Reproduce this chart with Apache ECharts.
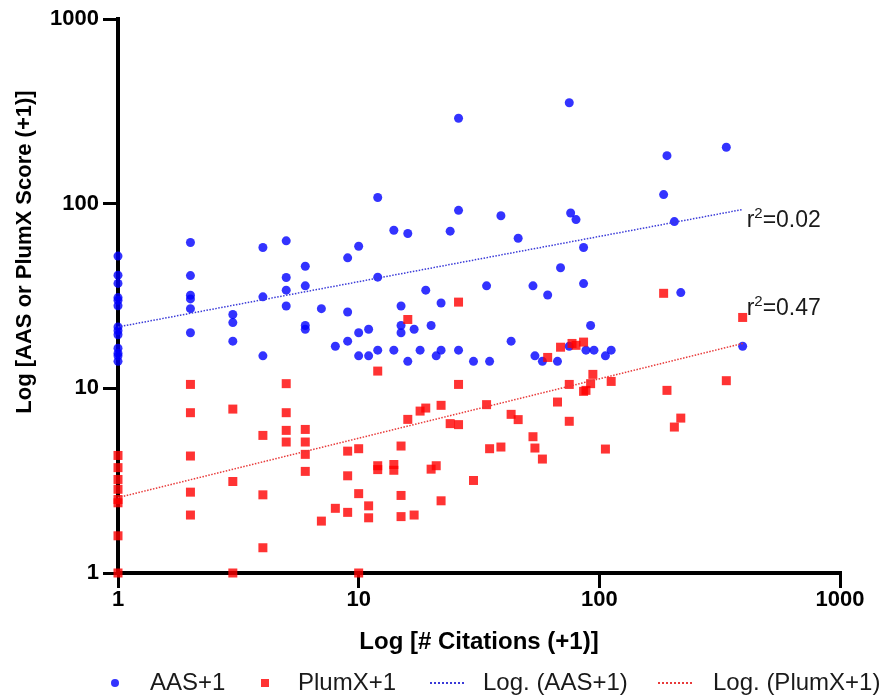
<!DOCTYPE html>
<html>
<head>
<meta charset="utf-8">
<script src="https://cdn.jsdelivr.net/npm/echarts@6/dist/echarts.min.js"></script>
<style>
  html, body { margin: 0; padding: 0; background: #fff; }
  #c { width: 887px; height: 699px; }
</style>
</head>
<body>
<div id="c"></div>
<script>
// ---- Data ----
const aasX = [1,1,1,1,1,1,1,1,1,1,1,1,1, 2,2,2,2,2,2, 3,3,3, 4,4,4, 5,5,5,5, 6,6,6,6, 7, 8, 9,9,9, 10,10,10, 11,11, 12,12,12, 14,14, 15,15,15, 16,16, 17, 18, 19, 20, 21, 22,22, 24, 26,26,26, 30, 34, 35, 39, 43, 46, 53, 54, 58, 61, 67, 69, 75,75, 76, 80, 86,86, 88, 92, 95, 106, 112, 185, 191, 205, 218, 337, 394];
const aasY = [52,41,37,31,30,28,21.5,20.5,19.5,16.5,15.5,15,14, 61.6,40.8,31.9,30.5,27,20, 25.1,22.7,18, 57.9,31.3,15, 62.9,39.8,34,27.9, 45.8,35.9,21.9,20.9, 27, 16.9, 50.9,25.9,18, 58.8,20,15, 20.9,15, 108,40,16.1, 71.8,16.1, 27.9,21.9,20, 68.9,14, 20.9, 16.1, 34, 21.9, 15, 29,16.1, 71, 290,92,16.1, 14, 35.9, 14, 86, 18, 65, 35.9, 15, 14, 32, 14, 45, 352,16.9, 89, 82, 57.9,36.9, 16.1, 21.9, 16.1, 15, 16.1, 112, 182, 80, 33, 202, 16.9];

const plumxX = [1,1,1,1,1,1,1,1, 2,2,2,2,2, 3,3,3, 4,4,4, 5,5,5,5, 6,6,6,6, 7, 8, 9,9,9, 10,10,10, 11,11, 12,12,12, 14,14, 15,15,15, 16,16, 17, 18, 19, 20, 21, 22,22, 24, 26,26,26, 30, 34, 35, 39, 43, 46, 53, 54, 58, 61, 67, 69, 75,75, 77, 80, 86,86, 88, 92, 94, 106, 112, 185, 191, 205, 218, 337, 394];
const plumxY = [4.33,3.72,3.21,2.84,2.5,2.4,1.59,1, 10.5,7.38,4.3,2.74,2.06, 7.72,3.13,1, 5.56,2.65,1.37, 10.6,7.38,5.92,5.12, 5.99,5.12,4.39,3.55, 1.91, 2.24, 4.57,3.36,2.13, 4.71,2.69,1, 2.31,1.99, 12.4,3.81,3.63, 3.87,3.6, 4.87,2.63,2.02, 23.6,6.79, 2.06, 7.53, 7.82, 3.65, 3.81, 8.09,2.46, 6.44, 29.3,10.5,6.36, 3.17, 8.16, 4.71, 4.81, 7.23, 6.77, 5.47, 4.75, 4.14, 14.7, 8.43, 16.7, 10.5,6.63, 17.5, 17.1, 17.8,9.63, 9.75, 10.6, 11.9, 4.69, 10.9, 32.7, 9.75, 6.17, 6.9, 11.0, 24.2];

const trendX = [1, 394];
const aasTrendY = [21.5, 93];
const plumxTrendY = [2.56, 17.5];
const r2Values = ['0.02', '0.47'];

const seriesNames = ['AAS+1', 'PlumX+1', 'Log. (AAS+1)', 'Log. (PlumX+1)'];

// ---- Build ----
const zip = (xs, ys) => xs.map((x, i) => [x, ys[i]]);
const FONT = 'Liberation Sans, Arial, sans-serif';

const axisCommon = {
  type: 'log', logBase: 10, min: 1, max: 1000,
  nameLocation: 'middle',
  nameTextStyle: { fontSize: 24, fontWeight: 'bold', color: '#000', fontFamily: FONT },
  axisLine: { show: true, onZero: false, lineStyle: { color: '#000', width: 4, cap: 'square' } },
  axisTick: { show: true, inside: false, length: 15, lineStyle: { color: '#000', width: 3 } },
  axisLabel: { fontSize: 22, fontWeight: 'bold', color: '#000', fontFamily: FONT,
               showMinLabel: true, showMaxLabel: true,
               formatter: v => String(Math.round(v)) },
  splitLine: { show: false },
  minorTick: { show: false }
};

const legendText = { fontSize: 24, color: '#1a1a1a', fontFamily: FONT };
const hiddenSymbol = { opacity: 0 };

function r2Label(val, offset) {
  return {
    show: true, distance: 4, offset: offset,
    formatter: '{a|r}{s|2}{a|=' + val + '}',
    rich: {
      a: { fontSize: 23, color: '#1a1a1a', fontFamily: FONT, lineHeight: 26, verticalAlign: 'bottom' },
      s: { fontSize: 15, color: '#1a1a1a', fontFamily: FONT, lineHeight: 26, verticalAlign: 'top', padding: [0, 0, 8, 0] }
    }
  };
}

const option = {
  backgroundColor: '#fff',
  animation: false,
  grid: { left: 118, right: 47, top: 19, bottom: 126, containLabel: false },
  xAxis: Object.assign({}, axisCommon, {
    name: 'Log [# Citations (+1)]', nameGap: 57,
    axisLabel: Object.assign({}, axisCommon.axisLabel, { margin: 16 })
  }),
  yAxis: Object.assign({}, axisCommon, {
    name: 'Log [AAS or PlumX Score (+1)]', nameGap: 82, nameRotate: 90,
    nameTextStyle: Object.assign({}, axisCommon.nameTextStyle, { fontSize: 22, padding: [0, 0, 0, 88] }),
    axisLabel: Object.assign({}, axisCommon.axisLabel, { margin: 19 })
  }),
  legend: [
    { data: [seriesNames[0]], left: 111, top: 671, padding: 0, itemWidth: 8, itemHeight: 8,
      textStyle: Object.assign({}, legendText, { padding: [0, 0, 0, 26] }) },
    { data: [seriesNames[1]], left: 261, top: 671, padding: 0, itemWidth: 8, itemHeight: 8,
      textStyle: Object.assign({}, legendText, { padding: [0, 0, 0, 24] }) },
    { data: [seriesNames[2]], left: 429, top: 671, padding: 0, itemWidth: 34, itemHeight: 8,
      itemStyle: hiddenSymbol,
      textStyle: Object.assign({}, legendText, { padding: [0, 0, 0, 14] }) },
    { data: [seriesNames[3]], left: 657, top: 671, padding: 0, itemWidth: 36, itemHeight: 8,
      itemStyle: hiddenSymbol,
      textStyle: Object.assign({}, legendText, { padding: [0, 0, 0, 14] }) }
  ],
  series: [
    { name: seriesNames[0], type: 'scatter', symbol: 'circle', symbolSize: 9,
      itemStyle: { color: '#0000ff' }, data: zip(aasX, aasY), z: 2 },
    { name: seriesNames[1], type: 'scatter', symbol: 'rect', symbolSize: 9,
      itemStyle: { color: '#ff0000' }, data: zip(plumxX, plumxY), z: 3 },
    { name: seriesNames[2], type: 'line', symbol: 'none', showSymbol: false,
      lineStyle: { color: '#3a3ad8', width: 1.5, type: 'dotted' },
      itemStyle: { color: '#3a3ad8' },
      endLabel: r2Label(r2Values[0], [0, 10]),
      data: zip(trendX, aasTrendY), z: 4 },
    { name: seriesNames[3], type: 'line', symbol: 'none', showSymbol: false,
      lineStyle: { color: '#e83a3a', width: 1.5, type: 'dotted' },
      itemStyle: { color: '#e83a3a' },
      endLabel: r2Label(r2Values[1], [0, -36]),
      data: zip(trendX, plumxTrendY), z: 4 }
  ]
};

const chart = echarts.init(document.getElementById('c'), null, { renderer: 'canvas' });
chart.setOption(option);
</script>
</body>
</html>
